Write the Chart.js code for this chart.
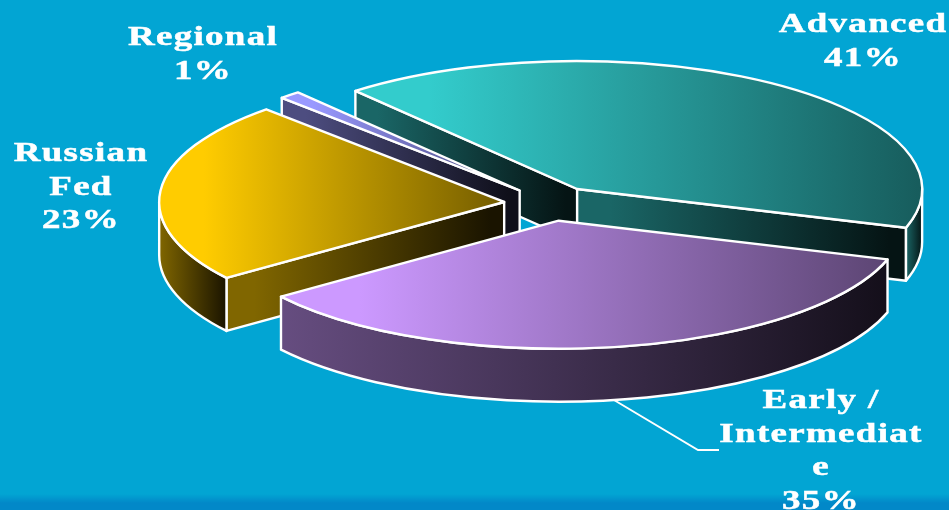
<!DOCTYPE html>
<html>
<head>
<meta charset="utf-8">
<title>Share by region</title>
<script src="https://cdn.jsdelivr.net/npm/chart.js@4"></script>
<style>
  html, body { margin: 0; padding: 0; }
  body {
    width: 949px;
    height: 510px;
    overflow: hidden;
    background: linear-gradient(#02a5d3 0, #02a5d3 494px, #0288c8 503px, #0288c8 510px);
  }
  canvas { display: block; }
</style>
</head>
<body>
<canvas id="pie" width="949" height="510"></canvas>
<script>
const categories = ['Advanced', 'Early / Intermediate', 'Russian Fed', 'Regional'];
const shares = [41, 35, 23, 1];
const sliceColors = ['#33cccc', '#cc99ff', '#ffcc00', '#9999ff'];

// wrapped the way the text boxes break them
const labelLines = [['Advanced'], ['Early /', 'Intermediat', 'e'], ['Russian', 'Fed'], ['Regional']];
const labelSpots = [[863, 32], [821, 408], [81, 161], [203, 45]];

const rimX = 345;
const tilt = 0.371;
const depth = 53;
const explode = 47;
const startDeg = -40;

const shade = (hex, k) => {
  const n = parseInt(hex.slice(1), 16);
  return `rgb(${Math.round((n >> 16) * k)}, ${Math.round(((n >> 8) & 255) * k)}, ${Math.round((n & 255) * k)})`;
};

const sideGradient = (ctx, x0, x1, c0, c1) => {
  const g = ctx.createLinearGradient(x0, 0, x1, 0);
  g.addColorStop(0, c0);
  g.addColorStop(1, c1);
  return g;
};

// extruded, tilted slices drawn from the arcs the pie controller laid out
const tiltedPie = {
  id: 'tiltedPie',
  beforeDatasetsDraw(chart) {
    const { ctx } = chart;
    const arcs = chart.getDatasetMeta(0).data;
    ctx.save();
    ctx.lineWidth = 2.4;
    ctx.lineJoin = 'round';
    ctx.strokeStyle = '#ffffff';

    // back to front
    [0, 3, 2, 1].forEach((i) => {
      const arc = arcs[i];
      const color = sliceColors[i];
      const a0 = arc.startAngle;
      const a1 = arc.endAngle;
      const mid = (a0 + a1) / 2;
      const ox = arc.x + Math.cos(mid) * explode;
      const oy = arc.y + Math.sin(mid) * explode * tilt;
      const ry = rimX * tilt;
      const rimPt = (a) => [ox + Math.cos(a) * rimX, oy + Math.sin(a) * ry];

      const wallLight = shade(color, 0.5);
      const wallDark = shade(color, 0.1);

      const cutWall = (a) => {
        const [rx, ry2] = rimPt(a);
        const left = Math.min(rx, ox);
        const right = Math.max(rx, ox);
        ctx.beginPath();
        ctx.moveTo(ox, oy);
        ctx.lineTo(rx, ry2);
        ctx.lineTo(rx, ry2 + depth);
        ctx.lineTo(ox, oy + depth);
        ctx.closePath();
        ctx.fillStyle = sideGradient(ctx, left + (right - left) * 0.1, right - (right - left) * 0.05, wallLight, wallDark);
        ctx.fill();
        ctx.stroke();
      };

      if (Math.cos(a0) < 0) cutWall(a0);
      if (Math.cos(a1) > 0) cutWall(a1);

      // only the near half of the rim has a visible wall
      const norm = (a) => ((a % (2 * Math.PI)) + 2 * Math.PI) % (2 * Math.PI);
      let from = norm(a0);
      let to = from + (a1 - a0);
      if (to > 2 * Math.PI) { from = 0; to = to - 2 * Math.PI; }
      to = Math.min(to, Math.PI);
      if (from < to) {
        const x0 = rimPt(from)[0];
        const x1 = rimPt(to)[0];
        ctx.beginPath();
        ctx.ellipse(ox, oy, rimX, ry, 0, from, to);
        ctx.ellipse(ox, oy + depth, rimX, ry, 0, to, from, true);
        ctx.closePath();
        ctx.fillStyle = sideGradient(ctx, Math.min(x0, x1), Math.max(x0, x1), wallLight, wallDark);
        ctx.fill();
        ctx.stroke();
      }

      // top face, horizontal shading over the slice's own width
      let xMin = ox;
      let xMax = ox;
      for (let s = 0; s <= 40; s++) {
        const px = rimPt(a0 + (a1 - a0) * s / 40)[0];
        xMin = Math.min(xMin, px);
        xMax = Math.max(xMax, px);
      }
      ctx.beginPath();
      ctx.moveTo(ox, oy);
      ctx.ellipse(ox, oy, rimX, ry, 0, a0, a1);
      ctx.closePath();
      ctx.fillStyle = sideGradient(ctx, xMin + (xMax - xMin) * 0.13, xMax, color, shade(color, 0.45));
      ctx.fill();
      ctx.stroke();
    });

    ctx.restore();
    return false;
  },
  afterDraw(chart) {
    const { ctx } = chart;
    ctx.save();

    // leader line for the bottom slice
    ctx.strokeStyle = '#ffffff';
    ctx.lineWidth = 2;
    ctx.beginPath();
    ctx.moveTo(614, 400);
    ctx.lineTo(698, 450);
    ctx.lineTo(719, 450);
    ctx.stroke();

    ctx.fillStyle = '#ffffff';
    ctx.strokeStyle = '#ffffff';
    ctx.lineWidth = 0.5;
    ctx.font = 'bold 28px "Liberation Serif"';
    ctx.textAlign = 'center';
    ctx.textBaseline = 'alphabetic';
    ctx.letterSpacing = '1px';
    labelLines.forEach((lines, i) => {
      const [x, y] = labelSpots[i];
      [...lines, `${shares[i]}%`].forEach((line, row) => {
        ctx.save();
        ctx.translate(x, y + row * 33.7);
        ctx.scale(1.32, 1);
        ctx.fillText(line, 0, 0);
        ctx.strokeText(line, 0, 0);
        ctx.restore();
      });
    });
    ctx.restore();
  }
};

new Chart(document.getElementById('pie'), {
  type: 'pie',
  plugins: [tiltedPie],
  data: {
    labels: categories,
    datasets: [{
      data: shares,
      backgroundColor: sliceColors,
      borderColor: '#ffffff',
      borderWidth: 2
    }]
  },
  options: {
    responsive: false,
    animation: false,
    rotation: startDeg,
    layout: { padding: { left: 153, bottom: 103 } },
    plugins: {
      legend: { display: false },
      tooltip: { enabled: false }
    }
  }
});
</script>
</body>
</html>
